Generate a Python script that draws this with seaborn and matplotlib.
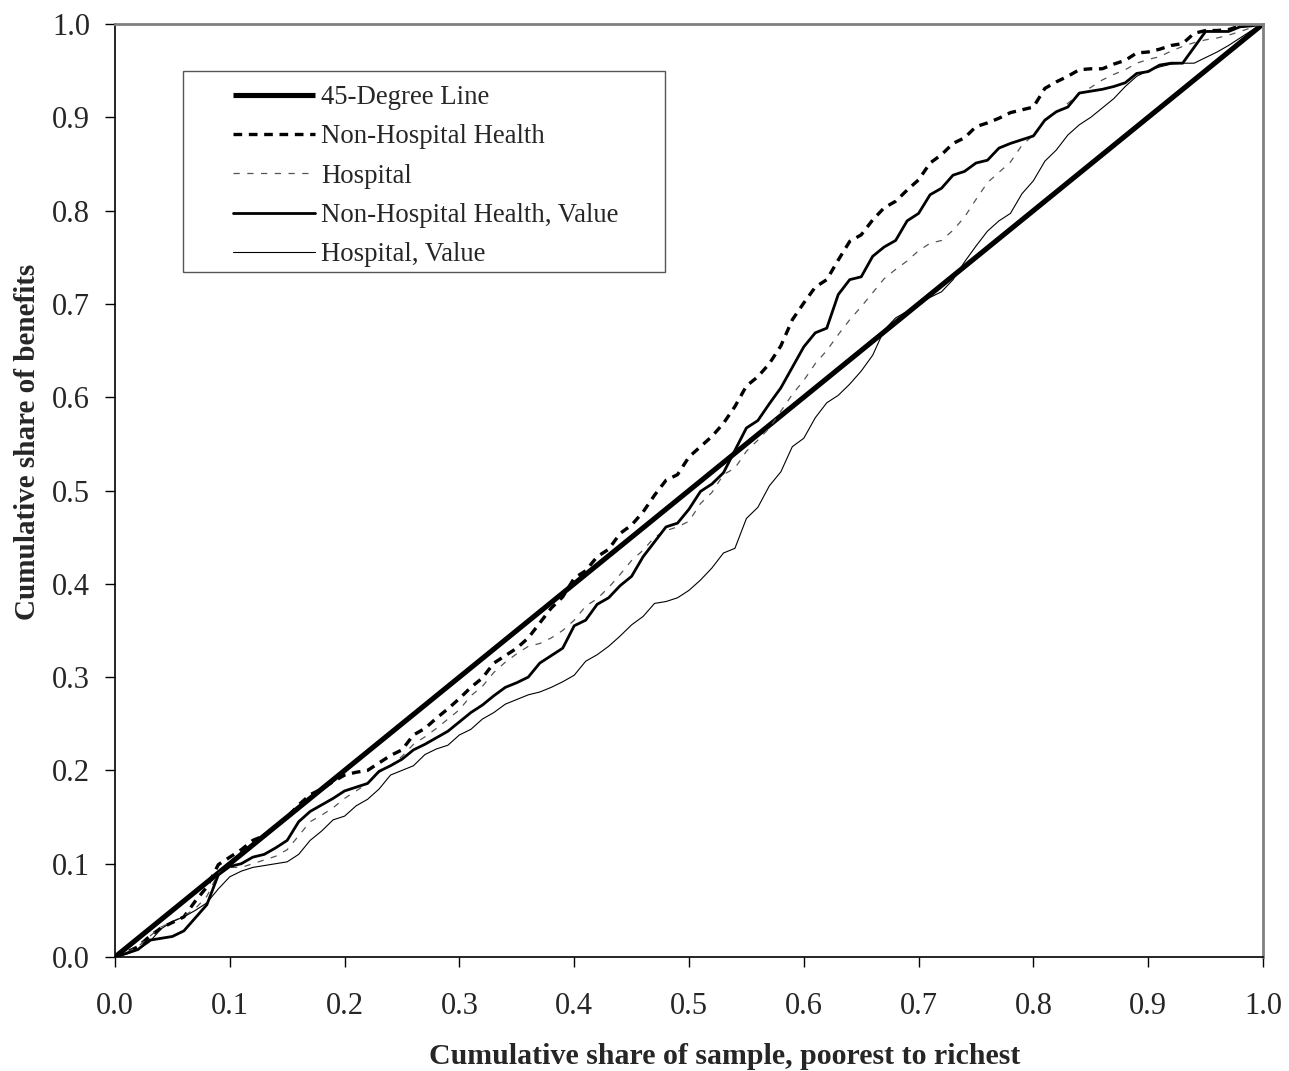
import numpy as np
import pandas as pd
import matplotlib
matplotlib.use("Agg")
import matplotlib.pyplot as plt
from matplotlib.patches import Rectangle
import seaborn as sns

# Cumulative share of sample (poorest to richest), in steps of 0.01
share = [round(i / 100, 2) for i in range(101)]

non_hospital = [
    0.000, 0.005, 0.011, 0.022, 0.031, 0.037, 0.043, 0.060, 0.075, 0.099,
    0.107, 0.115, 0.125, 0.130, 0.140, 0.150, 0.163, 0.174, 0.180, 0.188,
    0.195, 0.198, 0.200, 0.208, 0.216, 0.222, 0.238, 0.245, 0.256, 0.266,
    0.277, 0.289, 0.299, 0.315, 0.323, 0.331, 0.342, 0.358, 0.374, 0.386,
    0.406, 0.414, 0.429, 0.437, 0.454, 0.463, 0.477, 0.495, 0.511, 0.517,
    0.536, 0.547, 0.558, 0.572, 0.590, 0.612, 0.622, 0.636, 0.655, 0.683,
    0.701, 0.718, 0.726, 0.747, 0.767, 0.774, 0.790, 0.803, 0.810, 0.822,
    0.833, 0.851, 0.860, 0.872, 0.878, 0.890, 0.894, 0.899, 0.905, 0.908,
    0.911, 0.931, 0.938, 0.944, 0.951, 0.952, 0.952, 0.957, 0.961, 0.969,
    0.970, 0.973, 0.977, 0.979, 0.990, 0.993, 0.993, 0.994, 0.998, 0.999,
    1.000,
]

hospital = [
    0.000, 0.005, 0.011, 0.022, 0.032, 0.038, 0.044, 0.052, 0.065, 0.090,
    0.096, 0.096, 0.100, 0.104, 0.108, 0.115, 0.130, 0.145, 0.152, 0.160,
    0.170, 0.178, 0.186, 0.198, 0.205, 0.215, 0.228, 0.236, 0.245, 0.255,
    0.265, 0.280, 0.290, 0.305, 0.316, 0.325, 0.333, 0.336, 0.342, 0.350,
    0.361, 0.376, 0.384, 0.396, 0.410, 0.425, 0.436, 0.450, 0.457, 0.461,
    0.467, 0.486, 0.498, 0.517, 0.524, 0.542, 0.554, 0.567, 0.585, 0.603,
    0.618, 0.636, 0.650, 0.667, 0.683, 0.697, 0.712, 0.727, 0.737, 0.746,
    0.757, 0.765, 0.768, 0.779, 0.793, 0.812, 0.830, 0.841, 0.852, 0.870,
    0.881, 0.896, 0.905, 0.915, 0.925, 0.932, 0.940, 0.946, 0.951, 0.958,
    0.962, 0.965, 0.971, 0.976, 0.980, 0.983, 0.985, 0.988, 0.992, 0.996,
    1.000,
]

non_hospital_value = [
    0.000, 0.004, 0.008, 0.018, 0.020, 0.022, 0.028, 0.042, 0.056, 0.088,
    0.097, 0.100, 0.107, 0.110, 0.117, 0.125, 0.145, 0.156, 0.163, 0.170,
    0.178, 0.182, 0.186, 0.199, 0.205, 0.212, 0.222, 0.228, 0.235, 0.242,
    0.252, 0.262, 0.270, 0.280, 0.289, 0.294, 0.300, 0.315, 0.323, 0.331,
    0.355, 0.361, 0.378, 0.385, 0.398, 0.408, 0.429, 0.445, 0.461, 0.465,
    0.480, 0.499, 0.507, 0.519, 0.543, 0.567, 0.575, 0.593, 0.610, 0.632,
    0.654, 0.669, 0.674, 0.710, 0.726, 0.729, 0.751, 0.761, 0.768, 0.789,
    0.797, 0.817, 0.824, 0.838, 0.842, 0.851, 0.854, 0.867, 0.872, 0.876,
    0.880, 0.897, 0.906, 0.911, 0.926, 0.928, 0.930, 0.933, 0.937, 0.947,
    0.949, 0.956, 0.958, 0.958, 0.975, 0.992, 0.992, 0.992, 0.997, 0.998,
    1.000,
]

hospital_value = [
    0.000, 0.003, 0.008, 0.016, 0.030, 0.038, 0.043, 0.050, 0.058, 0.073,
    0.086, 0.092, 0.096, 0.098, 0.100, 0.102, 0.110, 0.125, 0.135, 0.147,
    0.151, 0.162, 0.169, 0.180, 0.195, 0.200, 0.205, 0.217, 0.223, 0.227,
    0.238, 0.244, 0.255, 0.262, 0.271, 0.276, 0.281, 0.284, 0.289, 0.295,
    0.302, 0.317, 0.324, 0.333, 0.344, 0.356, 0.365, 0.379, 0.381, 0.385,
    0.393, 0.404, 0.417, 0.433, 0.438, 0.470, 0.482, 0.505, 0.520, 0.547,
    0.556, 0.578, 0.594, 0.602, 0.614, 0.628, 0.645, 0.672, 0.685, 0.692,
    0.700, 0.707, 0.713, 0.726, 0.745, 0.762, 0.778, 0.789, 0.797, 0.818,
    0.832, 0.853, 0.865, 0.881, 0.892, 0.900, 0.910, 0.920, 0.933, 0.944,
    0.950, 0.954, 0.957, 0.958, 0.958, 0.964, 0.970, 0.977, 0.985, 0.993,
    1.000,
]

# Line of perfect equality
diag_x = [0.0, 1.0]
diag_y = [0.0, 1.0]

tick_values = [round(i / 10, 1) for i in range(11)]
tick_labels = [f"{v:.1f}" for v in tick_values]

sns.set_style("ticks")
plt.rcParams["font.family"] = ["Liberation Serif", "DejaVu Serif"]

fig = plt.figure(figsize=(12.89, 10.71), dpi=100)
ax = fig.add_axes([115 / 1289, (1071 - 957) / 1071, 1148 / 1289, 933 / 1071])

sns.lineplot(x=diag_x, y=diag_y, ax=ax, color="black", lw=3.7,
             label="45-Degree Line", solid_capstyle="butt")
sns.lineplot(x=share, y=non_hospital, ax=ax, color="black", lw=2.4,
             label="Non-Hospital Health", linestyle=(0, (2.6, 2.0)))
sns.lineplot(x=share, y=hospital, ax=ax, color="#555555", lw=0.9,
             label="Hospital", linestyle=(0, (5, 6)))
sns.lineplot(x=share, y=non_hospital_value, ax=ax, color="black", lw=2.0,
             label="Non-Hospital Health, Value")
sns.lineplot(x=share, y=hospital_value, ax=ax, color="black", lw=0.8,
             label="Hospital, Value")

ax.set_xlim(0, 1)
ax.set_ylim(0, 1)
ax.set_xticks(tick_values)
ax.set_xticklabels(tick_labels)
ax.set_yticks(tick_values)
ax.set_yticklabels(tick_labels)
ax.tick_params(axis="both", direction="out", length=7, width=1.0,
               color="black", labelsize=22)
ax.tick_params(axis="y", pad=11)
ax.tick_params(axis="x", pad=18)

for side in ["left", "bottom"]:
    ax.spines[side].set_color("black")
    ax.spines[side].set_linewidth(1.2)
for side in ["top", "right"]:
    ax.spines[side].set_visible(True)
    ax.spines[side].set_color("#808080")
    ax.spines[side].set_linewidth(2.0)

ax.set_xlabel("Cumulative share of sample, poorest to richest",
              fontsize=21.5, fontweight="bold", labelpad=16)
ax.xaxis.label.set_x(0.531)
ax.set_ylabel("Cumulative share of benefits",
              fontsize=21, fontweight="bold", labelpad=8)
ax.yaxis.label.set_y(0.552)

# Legend box drawn as its own framed panel, legend entries placed inside it
ax.add_patch(Rectangle((0.0592, 0.7342), 0.4199, 0.2154,
                       transform=ax.transAxes, facecolor="white",
                       edgecolor="#555555", lw=1.0, zorder=4))
leg = ax.legend(loc="upper left", bbox_to_anchor=(0.1028, 0.9346),
                frameon=False, fontsize=19.3,
                handlelength=3.05, handletextpad=0.25, labelspacing=0.535,
                borderpad=0.0, borderaxespad=0.0)
leg.set_zorder(5)

fig.savefig("out.png", dpi=100)
